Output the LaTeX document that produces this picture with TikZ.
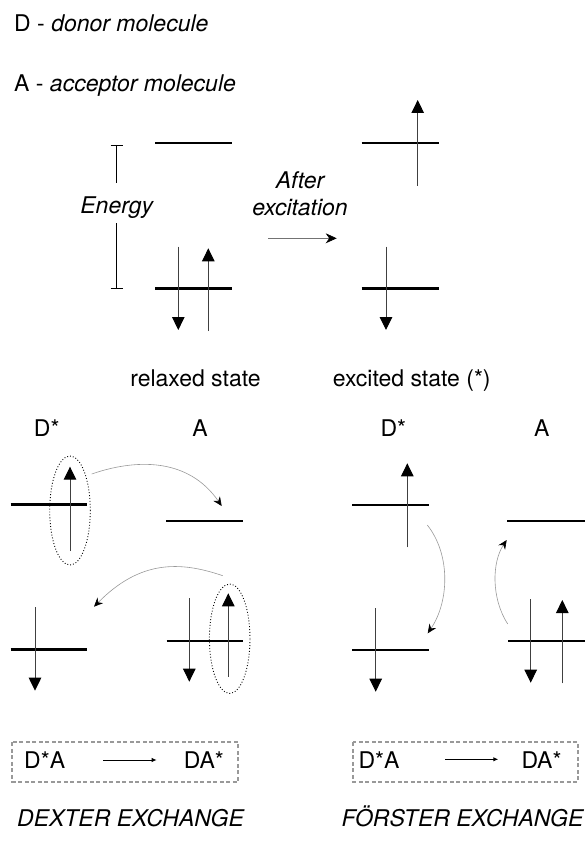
\documentclass[tikz,border=0pt]{standalone}
\usepackage{fontspec}
\setmainfont{TeX Gyre Heros}
\usetikzlibrary{arrows.meta}

\begin{document}
\begin{tikzpicture}[x=1pt, y=-1pt,
 txt/.style={inner sep=0pt, font=\fontsize{23}{27}\selectfont},
 itxt/.style={inner sep=0pt, font=\fontsize{23}{27}\selectfont\itshape},
 level/.style={line width=2.4pt},
 spin/.style={line width=1pt, draw=black!75, -{Triangle[length=13pt, width=12.5pt, color=black]}},
 hop/.style={line width=0.6pt, draw=black!40, -{Stealth[length=9pt, width=8pt, inset=3pt, color=black]}},
 excit/.style={line width=0.7pt, draw=black!55, -{Stealth[length=11pt, width=10pt, inset=3.5pt, color=black]}},
 react/.style={line width=1pt, -{Latex[length=5pt, width=4.5pt]}},
 ring/.style={draw, line width=0.9pt, dash pattern=on 0.9pt off 2pt},
 dbox/.style={draw=black!40, line width=2pt, dash pattern=on 4pt off 2.5pt}]
\useasboundingbox (0,0) rectangle (588,842);

\node[txt, anchor=base west] (donor) at (14,31.7) {D - \textit{donor molecule}};
\node[txt, anchor=base west] (acceptor) at (14,92) {A - \textit{acceptor molecule}};

\node[itxt, anchor=base] (energy) at (116.7,213.3) {Energy};
\draw[line width=0.9pt] (110.7,145) -- (122.7,145);
\draw[line width=0.9pt] (116.7,145) -- (116.7,183.3);
\draw[line width=0.9pt] (116.7,223.3) -- (116.7,288.3);
\draw[line width=0.9pt] (110.7,288.3) -- (122.7,288.3);

\draw[level] (155,143.3) -- (231.7,143.3);
\draw[level] (155,288.3) -- (231.7,288.3);
\draw[spin] (178.3,246.7) -- (178.3,330);
\draw[spin] (208.3,331) -- (208.3,248.3);

\node[itxt, anchor=base] (after) at (300,188.3) {After};
\node[itxt, anchor=base] (excitation) at (300,215) {excitation};
\coordinate (ex1) at (268.3,238.3);
\coordinate (ex2) at (336.7,238.3);
\draw[excit] (ex1) -- (ex2);

\draw[level] (361.7,143.3) -- (439.3,143.3);
\draw[level] (361.7,288.3) -- (439.3,288.3);
\draw[spin] (417.7,185.7) -- (417.7,100);
\draw[spin] (386,246.7) -- (386,330);

\node[txt, anchor=base] (relaxed) at (195.5,386) {relaxed state};
\node[txt, anchor=base] (excited) at (411.7,386) {excited state (*)};

\node[txt, anchor=base] (dxd) at (46.7,436) {D*};
\node[txt, anchor=base] (dxa) at (200,436) {A};
\node[txt, anchor=base] (fsd) at (393.3,436) {D*};
\node[txt, anchor=base] (fsa) at (541.7,436) {A};

\draw[level] (10.7,504.3) -- (87.3,504.3);
\draw[level] (166,520.7) -- (242.7,520.7);
\draw[level] (10.7,649.3) -- (87.3,649.3);
\draw[level] (166.7,640.7) -- (242.7,640.7);
\draw[spin] (70,551) -- (70,466.7);
\draw[spin] (35,607.3) -- (35,690.7);
\draw[spin] (189.3,598.3) -- (189.3,681.7);
\draw[spin] (228.3,676.7) -- (228.3,593.3);
\draw[ring] (70,510.5) ellipse [x radius=20.3pt, y radius=54.5pt];
\draw[ring] (229.7,638.7) ellipse [x radius=20.3pt, y radius=54.7pt];
\coordinate (dx1) at (91.7,474);
\coordinate (dx2) at (221.7,506);
\coordinate (dx3) at (222.7,575.7);
\coordinate (dx4) at (94,606.7);
\draw[hop] (dx1) .. controls (135,459) and (188,457) .. (dx2);
\draw[hop] (dx3) .. controls (180,561) and (140,560) .. (dx4);

\draw[level] (352,505) -- (429,505);
\draw[level] (507.3,521) -- (585,521);
\draw[level] (352,650) -- (429,650);
\draw[level] (508.3,641) -- (585,641);
\draw[spin] (407.3,547.3) -- (407.3,463.3);
\draw[spin] (375.7,608.3) -- (375.7,691.7);
\draw[spin] (530.7,599) -- (530.7,682.7);
\draw[spin] (562.3,683.3) -- (562.3,600);
\coordinate (fs1) at (427.3,525);
\coordinate (fs2) at (427.7,633.3);
\coordinate (fs3) at (507.7,624);
\coordinate (fs4) at (506.7,540);
\draw[hop] (fs1) .. controls (451,555) and (449,602) .. (fs2);
\draw[hop] (fs3) .. controls (491,598) and (492,562) .. (fs4);

\draw[dbox] (12.3,742.3) rectangle (238.3,781.7);
\node[txt, anchor=base west] (dxl) at (24,768.3) {D*A};
\node[txt, anchor=base east] (dxr) at (224,768.3) {DA*};
\coordinate (dr1) at (103.3,760);
\coordinate (dr2) at (156.7,760);
\draw[react] (dr1) -- (dr2);

\draw[dbox] (352.7,742.3) rectangle (578.3,781.7);
\node[txt, anchor=base west] (fsl) at (358.3,768.3) {D*A};
\node[txt, anchor=base east] (fsr) at (561.7,768.3) {DA*};
\coordinate (fr1) at (445,759.3);
\coordinate (fr2) at (498.3,759.3);
\draw[react] (fr1) -- (fr2);

\node[itxt, anchor=base] (dexter) at (130.5,826.7) {DEXTER EXCHANGE};
\node[itxt, anchor=base] (forster) at (462.5,826.7) {FÖRSTER EXCHANGE};
\end{tikzpicture}
\end{document}
